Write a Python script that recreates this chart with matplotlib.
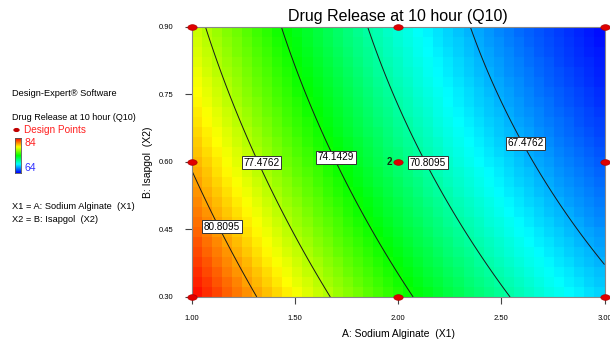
import numpy as np
import matplotlib
matplotlib.use('Agg')
import matplotlib.pyplot as plt
from matplotlib.colors import LinearSegmentedColormap

plt.rcParams['font.family'] = ['Liberation Sans', 'DejaVu Sans']

# points: (X1, X2, Q10)
cont_x1 = [1.068, 1.436, 1.853, 2.35, 1.194, 1.563, 1.985, 2.49,
           1.324, 1.704, 2.13, 2.66, 1.01, 1.147, 2.93,
           1.315, 1.673, 2.07, 2.537]
cont_x2 = [0.9, 0.9, 0.9, 0.9, 0.738, 0.738, 0.738, 0.738,
           0.6, 0.6, 0.6, 0.6, 0.56, 0.449, 0.416,
           0.3, 0.3, 0.3, 0.3]
cont_q = [77.4762, 74.1429, 70.8095, 67.4762, 77.4762, 74.1429, 70.8095, 67.4762,
          77.4762, 74.1429, 70.8095, 67.4762, 80.8095, 80.8095, 67.4762,
          80.8095, 77.4762, 74.1429, 70.8095]

levels = [67.4762, 70.8095, 74.1429, 77.4762, 80.8095]
label_x1 = [2.619, 2.145, 1.699, 1.340, 1.147]
label_x2 = [0.642, 0.598, 0.611, 0.598, 0.456]

design_x1 = [1, 1, 1, 2, 2, 2, 3, 3, 3]
design_x2 = [0.3, 0.6, 0.9, 0.3, 0.6, 0.9, 0.3, 0.6, 0.9]

q_min, q_max = 64, 84

# quadratic response surface fitted to the contour readings
cx1 = np.array(cont_x1); cx2 = np.array(cont_x2)
M = np.column_stack([np.ones_like(cx1), cx1, cx2, cx1 * cx2, cx1**2, cx2**2])
coef, *_ = np.linalg.lstsq(M, np.array(cont_q), rcond=None)

def model(a, b):
    return coef[0] + coef[1]*a + coef[2]*b + coef[3]*a*b + coef[4]*a**2 + coef[5]*b**2

cmap = LinearSegmentedColormap.from_list(
    'de', ['#0000ff', '#00ffff', '#00ff00', '#ffff00', '#ff0000'])

fig = plt.figure(figsize=(6.1, 3.4), dpi=100)
ax = fig.add_axes([0.3143, 0.1265, 0.6767, 0.7941])

# blocky colour cells like the original
xe = np.linspace(1, 3, 42)
ye = np.linspace(0.3, 0.9, 28)
xc = (xe[:-1] + xe[1:]) / 2
yc = (ye[:-1] + ye[1:]) / 2
XC, YC = np.meshgrid(xc, yc)
ax.pcolormesh(xe, ye, model(XC, YC), cmap=cmap, vmin=q_min, vmax=q_max, shading='flat')

xf = np.linspace(1, 3, 300)
yf = np.linspace(0.3, 0.9, 200)
XF, YF = np.meshgrid(xf, yf)
ax.contour(XF, YF, model(XF, YF), levels=levels, colors='#1a1a1a', linewidths=0.7)

for lv, lx, ly in zip(levels, label_x1, label_x2):
    ax.text(lx, ly, f'{lv:.4f}', fontsize=7.2, ha='center', va='center', zorder=5,
            bbox=dict(boxstyle='square,pad=0.15', fc='white', ec='#333333', lw=0.7))

# design points (ellipse markers)
t = np.linspace(0, 2*np.pi, 40)
ell = np.column_stack([np.cos(t), 0.6*np.sin(t)])
ax.scatter(design_x1, design_x2, marker=ell, s=45, c='#e00000', edgecolors='#b00000',
           linewidths=0.5, clip_on=False, zorder=6)
ax.text(1.97, 0.6, '2', fontsize=7, fontweight='bold', color='#103010',
        ha='right', va='center', zorder=6)

ax.set_xlim(1, 3)
ax.set_ylim(0.3, 0.9)
ax.set_xticks([1.0, 1.5, 2.0, 2.5, 3.0])
ax.set_xticklabels(['1.00', '1.50', '2.00', '2.50', '3.00'])
ax.set_yticks([0.3, 0.45, 0.6, 0.75, 0.9])
ax.set_yticklabels(['0.30', '0.45', '0.60', '0.75', '0.90'])
ax.tick_params(labelsize=5.5, length=5, width=0.8, color='#444444', pad=8)
for s in ax.spines.values():
    s.set_color('#888888')
    s.set_linewidth(0.8)

ax.set_title('Drug Release at 10 hour (Q10)', fontsize=11.5, pad=4)
ax.set_xlabel('A: Sodium Alginate  (X1)', fontsize=7.5, labelpad=5)
ax.set_ylabel('B: Isapgol  (X2)', fontsize=7.5, labelpad=4)

# left side legend block
fig.text(12/610, 1 - 93/340, 'Design-Expert® Software', fontsize=6.7, va='center')
fig.text(12/610, 1 - 117/340, 'Drug Release at 10 hour (Q10)', fontsize=6.5, va='center')
fig.text(24/610, 1 - 130/340, 'Design Points', fontsize=7.2, va='center', color='#ff2020')
fig.patches.append(plt.Circle((16.5/610, 1 - 130/340), 0.004, transform=fig.transFigure,
                              color='#c00000'))
cax = fig.add_axes([15/610, 1 - 173/340, 6/610, 35/340])
cax.imshow(np.linspace(1, 0, 100)[:, None], aspect='auto', cmap=cmap)
cax.set_xticks([]); cax.set_yticks([])
for s in cax.spines.values():
    s.set_color('#555555'); s.set_linewidth(0.6)
fig.text(25/610, 1 - 143/340, str(q_max), fontsize=7.5, va='center', color='#ff2020')
fig.text(25/610, 1 - 168/340, str(q_min), fontsize=7.5, va='center', color='#3030ff')
fig.text(12/610, 1 - 207/340, 'X1 = A: Sodium Alginate  (X1)', fontsize=6.7, va='center')
fig.text(12/610, 1 - 220/340, 'X2 = B: Isapgol  (X2)', fontsize=6.7, va='center')

fig.savefig('out.png', dpi=100)
